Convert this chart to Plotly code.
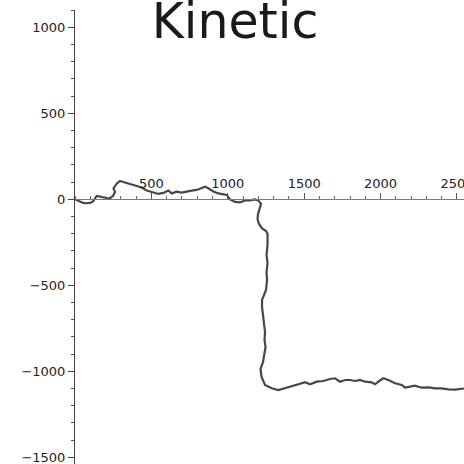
import plotly.graph_objects as go

# Trajectory (x, y)
x_vals = [0, 19.6, 32.7, 52.4, 76.6, 98.2, 117.8, 142, 163.6, 185.2, 209.4, 229, 248.7, 261.8, 252,
          274, 294.5, 316, 340.2, 379.5, 405.7, 436.8, 469.5, 491, 512.7, 545.4, 578.2, 611, 632.9,
          665.6, 698.4, 731, 763.8, 796.6, 829.6, 851.1, 872.7, 905.4, 938.1, 970.9, 993.1, 1014.8,
          1047.5, 1080.2, 1112.9, 1145.6, 1178.4, 1200, 1217.6, 1207.8, 1198, 1194.7, 1204.5, 1224.2,
          1250.3, 1260.2, 1260.2, 1253.6, 1260.2, 1253.6, 1256.9, 1250.3, 1233.9, 1224.1, 1224.1,
          1230.7, 1237.2, 1243.7, 1240.5, 1247, 1237.2, 1230.7, 1214.3, 1220.9, 1243.7, 1287.5,
          1331.1, 1374.8, 1418.7, 1462, 1505.8, 1538.5, 1582.3, 1625.5, 1669.2, 1701.9, 1734.6,
          1767.4, 1800.1, 1832.8, 1865.5, 1898.3, 1942, 1963.6, 1985.2, 2017.9, 2050.7, 2094.6,
          2138.4, 2160, 2192.7, 2225.4, 2269.3, 2312.5, 2356.3, 2400.2, 2444, 2487.8, 2546.7]
y_vals = [0, -9.9, -15.7, -21.5, -23.3, -21.5, -12.8, 19.2, 15.1, 10.5, 5.8, 5.8, 19.2, 42.4, 62.8,
          91.8, 106.4, 100.6, 94.8, 83.1, 77.3, 68.6, 51.1, 45.3, 42.4, 30.8, 36.6, 51.1, 34,
          44.2, 38.4, 45.3, 49.9, 54, 63.9, 73.2, 63.9, 45.3, 33.7, 30.8, 24.9, -1.2,
          -15.7, -18.6, -7, -7, -1.2, -7, -27.3, -56.4, -85.5, -114.6, -143.6, -169.8,
          -184.4, -201.8, -265.7, -323.9, -370.4, -422.7, -469.2, -527.4, -565.2, -585.5, -626.2,
          -672.7, -719.3, -771.6, -818.1, -858.8, -911.1, -946, -986.7, -1033.2, -1079.7, -1098.9,
          -1108.8, -1098.9, -1089.6, -1075.6, -1064, -1075.6, -1060.5, -1056.4, -1044.8, -1040.7, -1060.5,
          -1050.6, -1050.6, -1056.4, -1050.6, -1060.5, -1064, -1075.6, -1060.5, -1040.7, -1050.6, -1069.8,
          -1079.7, -1094.2, -1089.6, -1083.8, -1095.4, -1093.1, -1098.9, -1098.9, -1104.7, -1107, -1100]

x_ticks = [500, 1000, 1500, 2000, 2500]
y_ticks = [-1500, -1000, -500, 0, 500, 1000]
title_text = "Kinetic"

x_range = [0, 2546]
y_range = [-1539, 1100]
x_axis_pos = (0 - y_range[0]) / (y_range[1] - y_range[0])

fig = go.Figure()
fig.add_trace(go.Scatter(x=x_vals, y=y_vals, mode="lines",
                         line=dict(color="#474747", width=2.2), showlegend=False,
                         hoverinfo="skip"))

fig.update_layout(
    width=464, height=464,
    margin=dict(l=75, r=0, t=10, b=0, autoexpand=False),
    paper_bgcolor="white", plot_bgcolor="white",
    font=dict(family="DejaVu Sans", size=13, color="#222"),
    xaxis=dict(range=x_range, anchor="free", position=x_axis_pos, side="top",
               automargin=False,
               showgrid=False, zeroline=False, showline=True, linecolor="#7a7a7a", linewidth=1,
               tickvals=x_ticks, ticks="outside", ticklen=6, tickcolor="#555", tickwidth=1,
               ticklabeloverflow="allow",
               minor=dict(dtick=100, ticks="outside", ticklen=3, tickcolor="#666"),
               tickfont=dict(family="DejaVu Sans", size=13, color="#222")),
    yaxis=dict(range=y_range, automargin=False,
               showgrid=False, zeroline=False, showline=True,
               linecolor="#444", linewidth=1,
               tickvals=y_ticks, ticks="outside", ticklen=6, tickcolor="#444", tickwidth=1,
               ticklabeloverflow="allow",
               minor=dict(dtick=100, ticks="outside", ticklen=3, tickcolor="#555"),
               tickfont=dict(family="DejaVu Sans", size=13, color="#222")),
    title=dict(text=title_text, x=235/464, xanchor="center",
               y=1 - 21/464, yanchor="middle", xref="container", yref="container",
               font=dict(family="DejaVu Sans", size=49, color="#1a1a1a")),
)

fig.write_html("out.html", config={"displayModeBar": False, "staticPlot": True},
               post_script="document.body.style.margin='0';document.body.style.overflow='hidden';")
